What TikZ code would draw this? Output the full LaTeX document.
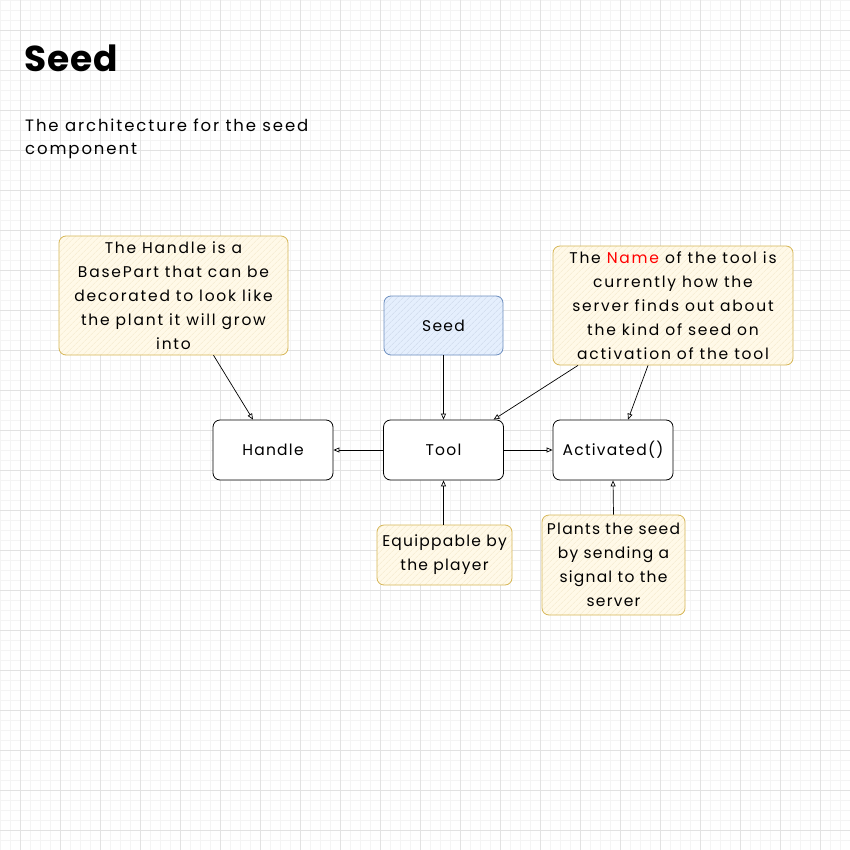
\documentclass[tikz,border=0pt]{standalone}
\usepackage{fontspec}
\setmainfont{Poppins}
\newfontfamily\wideface[LetterSpace=8]{Poppins}
\newfontfamily\widerface[LetterSpace=11.5]{Poppins}
\newfontfamily\titleface[LetterSpace=3]{Poppins}
\usetikzlibrary{arrows.meta,patterns.meta}
\definecolor{noteFill}{HTML}{FFF2CC}
\definecolor{noteLine}{HTML}{D6B656}
\definecolor{blueFill}{HTML}{DAE8FC}
\definecolor{blueLine}{HTML}{6C8EBF}
\definecolor{gridMajor}{HTML}{E2E2E2}
\definecolor{gridMinor}{HTML}{F4F4F4}
\definecolor{nameRed}{HTML}{FF0000}
\tikzset{
  base/.style={rounded corners=7pt, line width=0.8pt, align=center, inner sep=0pt,
    font=\wideface\fontsize{15.5}{24}\selectfont},
  widetext/.style={font=\widerface\fontsize{15.5}{24}\selectfont},
  plainbox/.style={base, draw=black, fill=white, minimum width=120pt, minimum height=60pt},
  notebox/.style={base, draw=noteLine,
    preaction={fill=noteFill!45!white},
    pattern={Lines[angle=45,distance=4pt,line width=0.5pt]}, pattern color=noteLine!30},
  bluebox/.style={base, draw=blueLine,
    preaction={fill=blueFill!70!white},
    pattern={Lines[angle=45,distance=4pt,line width=0.5pt]}, pattern color=blueLine!35},
  conn/.style={line width=0.7pt, -{Triangle[open,length=6pt,width=5pt]}},
  minorgrid/.style={gridMinor, line width=0.6pt},
  majorgrid/.style={gridMajor, line width=0.8pt},
}
\begin{document}
\begin{tikzpicture}[x=1pt,y=-1pt]
\useasboundingbox (0,0) rectangle (850,850);
\fill[white] (0,0) rectangle (850,850);
\foreach \v in {0,10,...,850} {
  \draw[minorgrid] (\v,0) -- (\v,850);
  \draw[minorgrid] (0,\v) -- (850,\v);
}
\foreach \v in {20,60,...,850} \draw[majorgrid] (\v,0) -- (\v,850);
\foreach \v in {30,70,...,850} \draw[majorgrid] (0,\v) -- (850,\v);

% title and subtitle
\node[anchor=west, inner sep=0pt, font=\titleface\fontsize{36}{40}\selectfont\bfseries] (title) at (24,58) {Seed};
\node[anchor=north west, inner sep=0pt, align=left, font=\widerface\fontsize{16.5}{23}\selectfont] (sub) at (25,118.5)
  {The architecture for the seed\\component};

% notes
\node[notebox, widetext, minimum width=229pt, minimum height=119pt] (hnote) at (173.5,295.5)
  {The Handle is a\\BasePart that can be\\decorated to look like\\the plant it will grow\\into};
\node[notebox, widetext, minimum width=240pt, minimum height=119pt] (nnote) at (673,305.5)
  {The {\color{nameRed}Name} of the tool is\\currently how the\\server finds out about\\the kind of seed on\\activation of the tool};
\node[bluebox, minimum width=119pt, minimum height=59pt] (seed) at (443.5,325.5) {Seed};

% main boxes
\node[plainbox] (handle) at (273,450) {Handle};
\node[plainbox] (tool) at (443.5,450) {Tool};
\node[plainbox] (act) at (613,450) {Activated()};

% bottom notes
\node[notebox, minimum width=135pt, minimum height=60pt] (equip) at (444.5,555)
  {Equippable by\\the player};
\node[notebox, minimum width=143pt, minimum height=100pt] (plants) at (613.5,565)
  {Plants the seed\\by sending a\\signal to the\\server};

% connectors
\draw[conn] ([xshift=40pt]hnote.south) -- ([xshift=-20pt]handle.north);
\draw[conn] (seed.south) -- (tool.north);
\draw[conn] ([xshift=-95pt]nnote.south) -- ([xshift=50pt]tool.north);
\draw[conn] ([xshift=-25pt]nnote.south) -- ([xshift=15pt]act.north);
\draw[conn] (tool.west) -- (handle.east);
\draw[conn] (tool.east) -- (act.west);
\draw[conn] ([xshift=-1pt]equip.north) -- (tool.south);
\draw[conn] (plants.north) -- (act.south);
\end{tikzpicture}
\end{document}
